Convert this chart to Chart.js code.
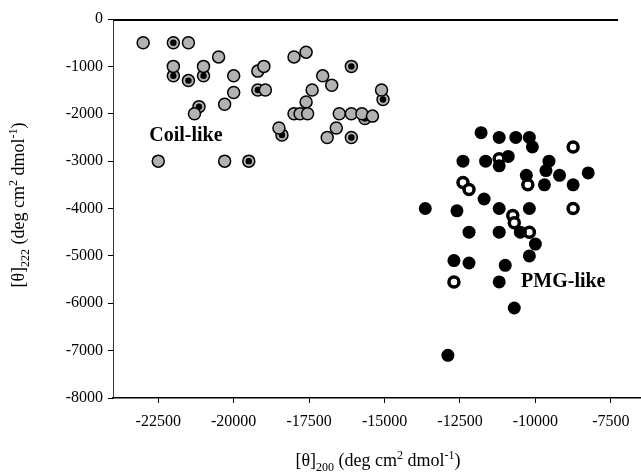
<!DOCTYPE html>
<html>
<head>
<meta charset="utf-8">
<script src="https://cdn.jsdelivr.net/npm/chart.js@4.4.1/dist/chart.umd.min.js"></script>
<style>
  html, body { margin: 0; padding: 0; background: #fff; }
  #wrap { width: 641px; height: 472px; position: relative; }
</style>
</head>
<body>
<div id="wrap"><canvas id="c"></canvas></div>
<script>
// ---------- data ----------
const xTicks = [-22500, -20000, -17500, -15000, -12500, -10000, -7500];
const yTicks = [0, -1000, -2000, -3000, -4000, -5000, -6000, -7000, -8000];

// coil-like, grey markers
const coilX = [-23000, -21500, -22000, -21000, -20500, -20000, -20000, -20300, -21300, -22500,
  -20300, -19200, -19000, -18950, -18000, -17600, -17050, -16750, -17400, -17600,
  -18000, -17800, -17550, -18500, -16900, -16600, -16500, -16100, -15750, -15400, -15100];
const coilY = [-500, -500, -1000, -1000, -800, -1200, -1550, -1800, -2000, -3000,
  -3000, -1100, -1000, -1500, -800, -700, -1200, -1400, -1500, -1750,
  -2000, -2000, -2000, -2300, -2500, -2300, -2000, -2000, -2000, -2050, -1500];

// coil-like, grey markers with a black centre
const coilDotX = [-22000, -22000, -21500, -21000, -21150, -19500, -19200, -18400, -16100, -16100, -15650, -15050];
const coilDotY = [-500, -1200, -1300, -1200, -1850, -3000, -1500, -2450, -1000, -2500, -2100, -1700];

// PMG-like, filled black
const pmgX = [-11800, -11200, -10650, -10200, -10100, -12400, -11650, -11200, -10900, -9550,
  -9650, -9200, -8250, -10300, -9700, -8750, -11700, -13650, -12600, -11200,
  -10200, -12200, -11200, -10500, -10000, -10200, -12700, -12200, -11000, -11200,
  -10700, -12900];
const pmgY = [-2400, -2500, -2500, -2500, -2700, -3000, -3000, -3100, -2900, -3000,
  -3200, -3300, -3250, -3300, -3500, -3500, -3800, -4000, -4050, -4000,
  -4000, -4500, -4500, -4500, -4750, -5000, -5100, -5150, -5200, -5550,
  -6100, -7100];

// PMG-like, open rings
const openX = [-8750, -12400, -12200, -11200, -10250, -8750, -10750, -10700, -10200, -12700];
const openY = [-2700, -3450, -3600, -2950, -3500, -4000, -4150, -4300, -4500, -5550];

// ---------- helpers ----------
const SERIF = '"Liberation Serif", "DejaVu Serif", serif';
const GREY = '#b2b2b2';

function pts(xs, ys) {
  return xs.map((x, i) => ({ x, y: ys[i] }));
}

// draws text pieces with sub/superscripts, centred at 0,0 of current transform
function richText(ctx, parts, size) {
  const small = Math.round(size * 0.68);
  let w = 0;
  parts.forEach(p => {
    ctx.font = `${p.sub || p.sup ? small : size}px ${SERIF}`;
    p.w = ctx.measureText(p.t).width;
    w += p.w;
  });
  let x = -w / 2;
  ctx.textAlign = 'left';
  ctx.textBaseline = 'alphabetic';
  parts.forEach(p => {
    ctx.font = `${p.sub || p.sup ? small : size}px ${SERIF}`;
    const dy = p.sub ? size * 0.3 : (p.sup ? -size * 0.4 : 0);
    ctx.fillText(p.t, x, dy);
    x += p.w;
  });
}

const extras = {
  id: 'extras',
  afterDraw(chart) {
    const { ctx, chartArea, scales } = chart;
    ctx.save();
    ctx.fillStyle = '#000';

    // frame line along the top
    ctx.strokeStyle = '#000';
    ctx.lineWidth = 2;
    ctx.beginPath();
    ctx.moveTo(chartArea.left, chartArea.top + 1);
    ctx.lineTo(618, chartArea.top + 1);
    ctx.stroke();

    // group labels
    ctx.font = `bold 20px ${SERIF}`;
    ctx.textAlign = 'left';
    ctx.textBaseline = 'alphabetic';
    ctx.fillText('Coil-like', scales.x.getPixelForValue(-22800), scales.y.getPixelForValue(-2575));
    ctx.fillText('PMG-like', scales.x.getPixelForValue(-10475), scales.y.getPixelForValue(-5650));

    // x title
    ctx.save();
    ctx.translate(378, 466);
    richText(ctx, [
      { t: '[θ]' }, { t: '200', sub: true }, { t: ' (deg cm' }, { t: '2', sup: true },
      { t: ' dmol' }, { t: '-1', sup: true }, { t: ')' }
    ], 18);
    ctx.restore();

    // y title
    ctx.save();
    ctx.translate(24, 205);
    ctx.rotate(-Math.PI / 2);
    richText(ctx, [
      { t: '[θ]' }, { t: '222', sub: true }, { t: ' (deg cm' }, { t: '2', sup: true },
      { t: ' dmol' }, { t: '-1', sup: true }, { t: ')' }
    ], 18);
    ctx.restore();

    ctx.restore();
  }
};

// ---------- chart ----------
new Chart(document.getElementById('c'), {
  type: 'scatter',
  data: {
    datasets: [
      {
        label: 'coil (dot) ring',
        data: pts(coilDotX, coilDotY),
        backgroundColor: GREY,
        borderColor: '#000',
        borderWidth: 1.5,
        pointRadius: 6,
        order: 6
      },
      {
        label: 'coil (dot) centre',
        data: pts(coilDotX, coilDotY),
        backgroundColor: '#000',
        borderWidth: 0,
        pointRadius: 3.2,
        order: 5
      },
      {
        label: 'coil',
        data: pts(coilX, coilY),
        backgroundColor: GREY,
        borderColor: '#000',
        borderWidth: 1.5,
        pointRadius: 6,
        order: 4
      },
      {
        label: 'open',
        data: pts(openX, openY),
        backgroundColor: '#fff',
        borderColor: '#000',
        borderWidth: 3.5,
        pointRadius: 5,
        order: 3
      },
      {
        label: 'PMG',
        data: pts(pmgX, pmgY),
        backgroundColor: '#000',
        borderWidth: 0,
        pointRadius: 6.5,
        order: 2
      }
    ]
  },
  options: {
    responsive: true,
    maintainAspectRatio: false,
    animation: false,
    layout: { autoPadding: false, padding: { top: 19, right: 0, left: 0, bottom: 0 } },
    plugins: {
      legend: { display: false },
      tooltip: { enabled: false }
    },
    scales: {
      x: {
        type: 'linear',
        min: -24000,
        max: -6500,
        afterBuildTicks: s => { s.ticks = xTicks.map(v => ({ value: v })); },
        afterFit: s => { s.height = 74; s.paddingLeft = 0; s.paddingRight = 0; },
        grid: { drawOnChartArea: false, tickLength: 5, color: '#000', lineWidth: 1 },
        border: { color: '#000', width: 1.5 },
        ticks: {
          color: '#000',
          padding: 9,
          maxRotation: 0,
          font: { family: SERIF, size: 16 },
          callback: v => String(v)
        }
      },
      y: {
        type: 'linear',
        min: -8000,
        max: 0,
        afterBuildTicks: s => { s.ticks = yTicks.map(v => ({ value: v })); },
        afterFit: s => { s.width = 113; s.paddingTop = 0; s.paddingBottom = 0; },
        grid: { drawOnChartArea: false, tickLength: 5, color: '#000', lineWidth: 1 },
        border: { color: '#333', width: 1 },
        ticks: {
          color: '#000',
          padding: 5,
          font: { family: SERIF, size: 16 },
          callback: v => String(v)
        }
      }
    }
  },
  plugins: [extras]
});
</script>
</body>
</html>
